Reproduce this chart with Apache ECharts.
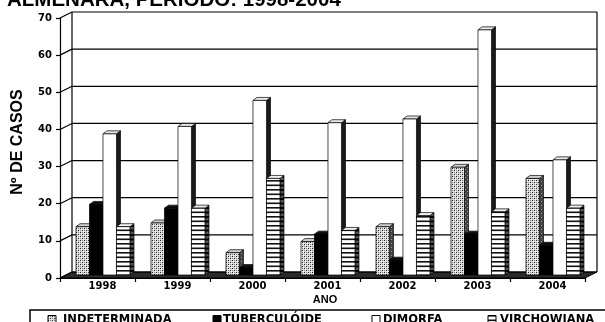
<!DOCTYPE html>
<html>
<head>
<meta charset="utf-8">
<script src="https://cdn.jsdelivr.net/npm/echarts@6/dist/echarts.min.js"></script>
<style>
  html, body { margin: 0; padding: 0; background: #fff; }
  #chart { width: 605px; height: 322px; }
</style>
</head>
<body>
<div id="chart"></div>
<script>
// Casos por forma clínica, Almenara 1998-2004
const anos = ['1998', '1999', '2000', '2001', '2002', '2003', '2004'];
const indeterminada = [13, 14, 6, 9, 13, 29, 26];
const tuberculoide = [19, 18, 2, 11, 4, 11, 8];
const dimorfa = [38, 40, 47, 41, 42, 66, 31];
const virchowiana = [13, 18, 26, 12, 16, 17, 18];
const yTicks = [0, 10, 20, 30, 40, 50, 60, 70];
const legendNames = ['INDETERMINADA', 'TUBERCULÓIDE', 'DIMORFA', 'VIRCHOWIANA'];

// depth of the chart box (back wall offset) and of each bar
const WALL_DX = 12, WALL_DY = 6;
const BAR_DX = 4, BAR_DY = 3;

function makeCanvas(w, h, draw) {
  const c = document.createElement('canvas');
  c.width = w; c.height = h;
  draw(c.getContext('2d'));
  return c;
}
// stippled fill
const dotsLight = makeCanvas(4, 4, g => {
  g.fillStyle = '#dcdcdc'; g.fillRect(0, 0, 4, 4);
  g.fillStyle = '#222'; g.fillRect(0, 0, 1, 1); g.fillRect(2, 2, 1, 1);
  g.fillStyle = '#888'; g.fillRect(2, 0, 1, 1); g.fillRect(0, 2, 1, 1);
  g.fillStyle = '#fff'; g.fillRect(1, 1, 1, 1); g.fillRect(3, 3, 1, 1);
});
const dotsDark = makeCanvas(4, 4, g => {
  g.fillStyle = '#444'; g.fillRect(0, 0, 4, 4);
  g.fillStyle = '#999'; g.fillRect(1, 1, 1, 1); g.fillRect(3, 3, 1, 1);
});
// horizontal stripes
const stripes = makeCanvas(4, 9, g => {
  g.fillStyle = '#fff'; g.fillRect(0, 0, 4, 9);
  g.fillStyle = '#111'; g.fillRect(0, 0, 4, 1.6); g.fillRect(0, 4.5, 4, 1.6);
});
const stripesDark = makeCanvas(4, 9, g => {
  g.fillStyle = '#555'; g.fillRect(0, 0, 4, 9);
  g.fillStyle = '#000'; g.fillRect(0, 0, 4, 2); g.fillRect(0, 4.5, 4, 2);
});
const pat = c => ({ image: c, repeat: 'repeat' });

const looks = [
  { front: pat(dotsLight), side: pat(dotsDark), top: '#cfcfcf' },
  { front: '#000', side: '#000', top: '#111' },
  { front: '#fff', side: '#1a1a1a', top: '#e8e8e8' },
  { front: pat(stripes), side: pat(stripesDark), top: '#f0f0f0' }
];

function barRenderer(slot) {
  const look = looks[slot];
  return function (params, api) {
    const i = api.value(0), v = api.value(1);
    const base = api.coord([i, 0]);
    const top = api.coord([i, v]);
    const band = api.size([1, 0])[0];
    const w = band * 0.18;
    const x = base[0] + band * 0.073 - 2 * w + slot * w;
    const yb = base[1] - 3, yt = top[1] - 3;
    const stroke = { stroke: '#000', lineWidth: 0.7 };
    return {
      type: 'group',
      children: [
        { type: 'polygon', shape: { points: [[x + w, yt], [x + w + BAR_DX, yt - BAR_DY], [x + w + BAR_DX, yb - BAR_DY], [x + w, yb]] },
          style: Object.assign({ fill: look.side }, stroke) },
        { type: 'polygon', shape: { points: [[x, yt], [x + BAR_DX, yt - BAR_DY], [x + w + BAR_DX, yt - BAR_DY], [x + w, yt]] },
          style: Object.assign({ fill: look.top }, stroke) },
        { type: 'rect', shape: { x: x, y: yt, width: w, height: yb - yt },
          style: Object.assign({ fill: look.front }, stroke) }
      ]
    };
  };
}

// back wall, side wall gridlines and floor
function frameRenderer(params, api) {
  const cs = params.coordSys;
  const v = api.value(1);
  const y = api.coord([0, v])[1];
  const x0 = cs.x, x1 = cs.x + cs.width;
  const line = { stroke: '#000', lineWidth: 1.2 };
  const children = [
    { type: 'line', shape: { x1: x0, y1: y, x2: x0 + WALL_DX, y2: y - WALL_DY }, style: line },
    { type: 'line', shape: { x1: x0 + WALL_DX, y1: y - WALL_DY, x2: x1 + WALL_DX, y2: y - WALL_DY }, style: line }
  ];
  if (v === yTicks[0]) {
    children.unshift({ type: 'polygon',
      shape: { points: [[x0, y], [x1, y], [x1 + WALL_DX, y - WALL_DY], [x0 + WALL_DX, y - WALL_DY]] },
      style: { fill: '#2a2a2a', stroke: '#000', lineWidth: 1 } });
  }
  if (v === yTicks[yTicks.length - 1]) {
    const yb = api.coord([0, yTicks[0]])[1];
    children.push(
      { type: 'line', shape: { x1: x0 + WALL_DX, y1: y - WALL_DY, x2: x0 + WALL_DX, y2: yb - WALL_DY }, style: line },
      { type: 'line', shape: { x1: x1 + WALL_DX, y1: y - WALL_DY, x2: x1 + WALL_DX, y2: yb - WALL_DY }, style: line }
    );
  }
  return { type: 'group', children: children };
}

const seriesData = [indeterminada, tuberculoide, dimorfa, virchowiana];

const chart = echarts.init(document.getElementById('chart'), null, { renderer: 'canvas' });

const legendX = [[48, 63], [213, 223], [372, 383], [488, 500]];
const legendGraphics = [
  { type: 'rect', shape: { x: 30, y: 310, width: 600, height: 30 }, style: { fill: '#fff', stroke: '#000', lineWidth: 1.5 } }
];
legendNames.forEach((name, k) => {
  legendGraphics.push({ type: 'rect', shape: { x: legendX[k][0], y: 315.5, width: 8, height: 8 },
    style: { fill: looks[k].front, stroke: '#000', lineWidth: 1 } });
  legendGraphics.push({ type: 'text', x: legendX[k][1], y: 320.5,
    style: { text: name, fill: '#000', font: 'bold 11.5px "DejaVu Sans"', verticalAlign: 'middle', align: 'left' } });
});

chart.setOption({
  animation: false,
  grid: { left: 60, top: 18, width: 525, height: 260 },
  xAxis: {
    type: 'category',
    data: anos,
    boundaryGap: true,
    axisLine: { lineStyle: { color: '#000', width: 1.2 } },
    axisTick: { show: true, length: 4, lineStyle: { color: '#000', width: 1.2 } },
    axisLabel: { color: '#000', fontFamily: 'DejaVu Sans', fontWeight: 'bold', fontSize: 10, margin: 3, padding: [0, 0, 0, 10] },
    splitLine: { show: false }
  },
  yAxis: {
    type: 'value',
    min: 0, max: 70, interval: 10,
    axisLine: { show: true, lineStyle: { color: '#000', width: 1.2 } },
    axisTick: { show: true, length: 4, lineStyle: { color: '#000', width: 1.2 } },
    axisLabel: { color: '#000', fontFamily: 'DejaVu Sans', fontWeight: 'bold', fontSize: 10, margin: 8 },
    splitLine: { show: false }
  },
  graphic: [
    { type: 'text', x: 7, y: 11, style: { text: 'ALMENARA, PERÍODO: 1998-2004', fill: '#000', font: 'bold 20.5px "Liberation Sans"', verticalAlign: 'bottom' } },
    { type: 'text', x: 18, y: 142, rotation: Math.PI / 2,
      style: { text: 'Nº DE CASOS', fill: '#000', font: 'bold 16px "Liberation Sans"', align: 'center', verticalAlign: 'middle' } },
    { type: 'text', x: 325, y: 300,
      style: { text: 'ANO', fill: '#000', font: 'bold 11px "Liberation Sans"', align: 'center', verticalAlign: 'middle' } }
  ].concat(legendGraphics),
  series: [
    { type: 'custom', name: 'grade', z: 1, silent: true, renderItem: frameRenderer,
      data: yTicks.map(v => [0, v]) }
  ].concat(seriesData.map((vals, k) => ({
    type: 'custom',
    name: legendNames[k],
    z: 2,
    renderItem: barRenderer(k),
    data: vals.map((v, i) => [i, v])
  })))
});
</script>
</body>
</html>
